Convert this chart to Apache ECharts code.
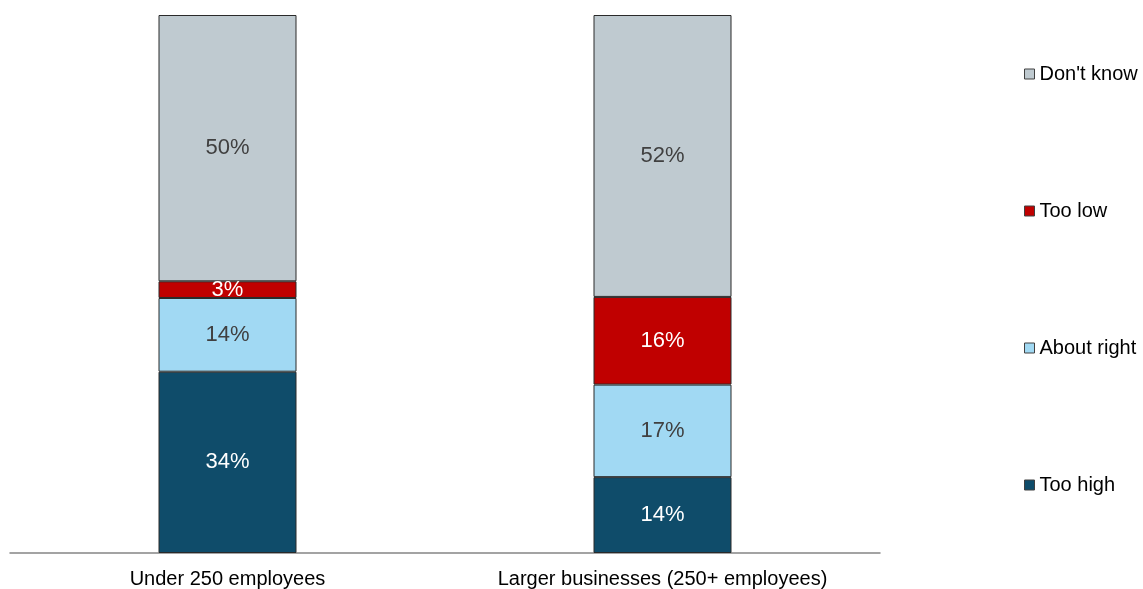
<!DOCTYPE html>
<html>
<head>
<meta charset="utf-8">
<script src="https://cdn.jsdelivr.net/npm/echarts@6/dist/echarts.min.js"></script>
<style>
  html, body { margin: 0; padding: 0; background: #fff; }
  #chart { width: 1143px; height: 589px; }
</style>
</head>
<body>
<div id="chart"></div>
<script>
// 카테고리와 값 (퍼센트)
const categories = ['Under 250 employees', 'Larger businesses (250+ employees)'];
const tooHigh = [33.7, 14.1];
const aboutRight = [13.7, 17.2];
const tooLow = [3.1, 16.3];
const dontKnow = [49.5, 52.4];

const FONT = '"Liberation Sans", Arial, sans-serif';

function makeSeries(name, data, color, labelColor) {
    return {
        name: name,
        type: 'bar',
        stack: 'total',
        barWidth: 138,
        data: data,
        itemStyle: {
            color: color,
            borderColor: '#2a2a2a',
            borderWidth: 1
        },
        label: {
            show: true,
            position: 'inside',
            formatter: (p) => Math.round(p.value) + '%',
            fontFamily: FONT,
            fontSize: 22,
            color: labelColor
        }
    };
}

const chart = echarts.init(document.getElementById('chart'));

chart.setOption({
    animation: false,
    grid: { left: 10, right: 263, top: 15, bottom: 32 },
    xAxis: {
        type: 'category',
        data: categories,
        axisTick: { show: false },
        axisLine: { lineStyle: { color: '#858585', width: 1.5 } },
        axisLabel: {
            fontFamily: FONT,
            fontSize: 20,
            color: '#000',
            margin: 16
        }
    },
    yAxis: {
        type: 'value',
        min: 0,
        max: 100,
        show: false
    },
    legend: {
        orient: 'vertical',
        left: 1019,
        top: 59,
        itemWidth: 10,
        itemHeight: 10,
        itemGap: 117,
        icon: 'rect',
        data: ['Don\'t know', 'Too low', 'About right', 'Too high'],
        textStyle: { fontFamily: FONT, fontSize: 20, color: '#000' },
        itemStyle: { borderColor: '#404040', borderWidth: 1 }
    },
    series: [
        makeSeries('Too high', tooHigh, '#0f4c6a', '#ffffff'),
        makeSeries('About right', aboutRight, '#a1d9f3', '#404040'),
        makeSeries('Too low', tooLow, '#c00000', '#ffffff'),
        makeSeries('Don\'t know', dontKnow, '#bfcad0', '#404040')
    ]
});
</script>
</body>
</html>
